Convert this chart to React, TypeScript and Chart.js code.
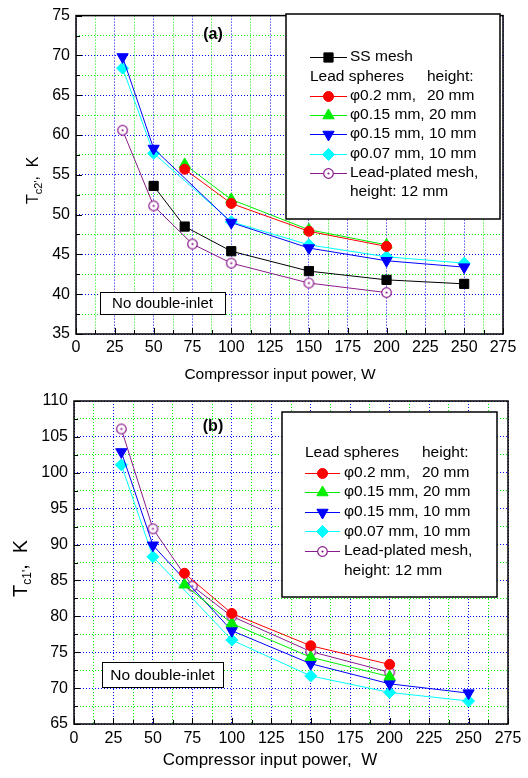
import React, { useEffect, useRef } from 'react';
import { Chart, registerables } from 'chart.js';
Chart.register(...registerables);

const FONT = "Arial, 'Liberation Sans', sans-serif";

// ---------- shared axis ----------
const X_MIN = 0;
const X_MAX = 275;
const X_STEP = 12.5;
const X_LABEL_STEP = 25;

// ---------- panel (a): T_c2 ----------
const A_Y_MIN = 35;
const A_Y_MAX = 75;
const A_Y_STEP = 2.5;
const A_Y_LABEL_STEP = 5;

const A_SS_X = [50, 70, 100, 150, 200, 250];
const A_SS_Y = [53.6, 48.5, 45.4, 42.9, 41.8, 41.3];
const A_R20_X = [70, 100, 150, 200];
const A_R20_Y = [55.7, 51.4, 47.9, 46.0];
const A_G20_X = [70, 100, 150, 200];
const A_G20_Y = [56.3, 51.9, 48.1, 46.2];
const A_B10_X = [30, 50, 100, 150, 200, 250];
const A_B10_Y = [69.8, 58.3, 49.0, 45.8, 44.2, 43.4];
const A_C10_X = [30, 50, 100, 150, 200, 250];
const A_C10_Y = [68.4, 57.7, 49.1, 46.2, 44.7, 43.9];
const A_PB_X = [30, 50, 75, 100, 150, 200];
const A_PB_Y = [60.6, 51.1, 46.3, 43.9, 41.4, 40.2];

// ---------- panel (b): T_c1 ----------
const B_Y_MIN = 65;
const B_Y_MAX = 110;
const B_Y_STEP = 2.5;
const B_Y_LABEL_STEP = 5;

const B_R20_X = [70, 100, 150, 200];
const B_R20_Y = [86.0, 80.4, 75.9, 73.3];
const B_G20_X = [70, 100, 150, 200];
const B_G20_Y = [84.4, 79.0, 74.3, 71.6];
const B_B10_X = [30, 50, 100, 150, 200, 250];
const B_B10_Y = [102.9, 89.9, 78.0, 73.4, 70.6, 69.3];
const B_C10_X = [30, 50, 100, 150, 200, 250];
const B_C10_Y = [101.1, 88.3, 76.7, 71.7, 69.4, 68.2];
const B_PB_X = [30, 50, 75, 100, 150, 200];
const B_PB_Y = [106.1, 92.2, 84.2, 80.0, 75.1, 72.2];

// ---------- labels ----------
const LBL_SS = 'SS mesh';
const LBL_R20 = 'φ0.2 mm,   20 mm';
const LBL_G20 = 'φ0.15 mm, 20 mm';
const LBL_B10 = 'φ0.15 mm, 10 mm';
const LBL_C10 = 'φ0.07 mm, 10 mm';
const LBL_PB = 'Lead-plated mesh, height: 12 mm';

type Marker = 'rect' | 'circle' | 'triangle' | 'triangleDown' | 'rectRot' | 'ring';
interface SeriesStyle { color: string; marker: Marker; radius: number; }

const ST_SS: SeriesStyle = { color: '#000000', marker: 'rect', radius: 6.5 };
const ST_R: SeriesStyle = { color: '#ff0000', marker: 'circle', radius: 5 };
const ST_G: SeriesStyle = { color: '#00ee00', marker: 'triangle', radius: 6.5 };
const ST_B: SeriesStyle = { color: '#0000ff', marker: 'triangleDown', radius: 6.5 };
const ST_C: SeriesStyle = { color: '#00ffff', marker: 'rectRot', radius: 6 };
const ST_P: SeriesStyle = { color: '#8b1a8b', marker: 'ring', radius: 5 };

function makeRing(color: string): HTMLCanvasElement {
  const c = document.createElement('canvas');
  c.width = 13;
  c.height = 13;
  const g = c.getContext('2d')!;
  g.beginPath();
  g.arc(6.5, 6.5, 4.8, 0, Math.PI * 2);
  g.fillStyle = '#ffffff';
  g.fill();
  g.lineWidth = 1.2;
  g.strokeStyle = color;
  g.stroke();
  g.beginPath();
  g.arc(6.5, 6.5, 1.1, 0, Math.PI * 2);
  g.fillStyle = color;
  g.fill();
  return c;
}

function drawMarker(ctx: CanvasRenderingContext2D, st: SeriesStyle, x: number, y: number, ring: HTMLCanvasElement) {
  const r = st.radius;
  ctx.save();
  if (st.marker === 'ring') {
    ctx.drawImage(ring, x - ring.width / 2, y - ring.height / 2);
    ctx.restore();
    return;
  }
  ctx.fillStyle = st.color;
  ctx.strokeStyle = st.color;
  ctx.lineWidth = 1;
  ctx.beginPath();
  if (st.marker === 'rect') {
    const s = r * Math.SQRT1_2;
    ctx.rect(x - s, y - s, 2 * s, 2 * s);
  } else if (st.marker === 'circle') {
    ctx.arc(x, y, r, 0, Math.PI * 2);
  } else if (st.marker === 'triangle' || st.marker === 'triangleDown') {
    let rad = st.marker === 'triangle' ? 0 : Math.PI;
    ctx.moveTo(x + Math.sin(rad) * r, y - Math.cos(rad) * r);
    rad += (2 * Math.PI) / 3;
    ctx.lineTo(x + Math.sin(rad) * r, y - Math.cos(rad) * r);
    rad += (2 * Math.PI) / 3;
    ctx.lineTo(x + Math.sin(rad) * r, y - Math.cos(rad) * r);
    ctx.closePath();
  } else if (st.marker === 'rectRot') {
    ctx.moveTo(x, y - r);
    ctx.lineTo(x + r, y);
    ctx.lineTo(x, y + r);
    ctx.lineTo(x - r, y);
    ctx.closePath();
  }
  ctx.fill();
  ctx.stroke();
  ctx.restore();
}

function makeDataset(label: string, xs: number[], ys: number[], st: SeriesStyle, ring: HTMLCanvasElement) {
  return {
    label,
    data: xs.map((x, i) => ({ x, y: ys[i] })),
    borderColor: st.color,
    backgroundColor: st.color,
    borderWidth: 1,
    pointStyle: st.marker === 'ring' ? ring : st.marker === 'triangleDown' ? 'triangle' : st.marker,
    pointRotation: st.marker === 'triangleDown' ? 180 : 0,
    pointRadius: st.radius,
    pointBorderWidth: 1,
    pointBorderColor: st.color,
    pointBackgroundColor: st.color,
    tension: 0,
    fill: false,
  };
}

interface LegendRow { series?: number; text: string; text2?: string; atLine?: boolean; }
interface OverlayCfg {
  styles: SeriesStyle[];
  panel: { text: string; x: number; y: number };
  note: { x: number; y: number; w: number; h: number; text: string; size: number };
  legend: {
    x: number; y: number; w: number; h: number; rows: LegendRow[]; rowY0: number; rowDy: number;
    lineX0: number; lineX1: number; textX: number; col2X: number; size: number;
  };
  xTitle: { text: string; x: number; y: number; size: number };
  yTitle: { main: string; sub: string; rest: string; x: number; yStart: number; size: number; subSize: number; gap: number };
}

function overlayPlugin(cfg: OverlayCfg, ring: HTMLCanvasElement) {
  return {
    id: 'overlay',
    afterDraw(chart: any) {
      const { ctx, chartArea: ca, scales } = chart;
      const xs = scales.x;
      const ys = scales.y;
      ctx.save();
      // inward ticks
      ctx.strokeStyle = '#000';
      ctx.lineWidth = 1;
      ctx.beginPath();
      xs.ticks.forEach((t: any) => {
        const px = Math.round(xs.getPixelForValue(t.value)) + 0.5;
        const len = Math.abs(t.value % X_LABEL_STEP) < 1e-6 ? 6 : 4;
        ctx.moveTo(px, ca.bottom);
        ctx.lineTo(px, ca.bottom - len);
      });
      ys.ticks.forEach((t: any) => {
        const py = Math.round(ys.getPixelForValue(t.value)) + 0.5;
        const len = Math.abs(t.value % 5) < 1e-6 ? 6 : 4;
        ctx.moveTo(ca.left, py);
        ctx.lineTo(ca.left + len, py);
      });
      ctx.stroke();
      // frame
      ctx.lineWidth = 1.5;
      ctx.strokeRect(ca.left, ca.top, ca.right - ca.left, ca.bottom - ca.top);

      // legend
      const L = cfg.legend;
      ctx.fillStyle = '#fff';
      ctx.fillRect(L.x, L.y, L.w, L.h);
      ctx.lineWidth = 1.5;
      ctx.strokeStyle = '#000';
      ctx.strokeRect(L.x, L.y, L.w, L.h);
      ctx.font = `${L.size}px ${FONT}`;
      ctx.textBaseline = 'middle';
      ctx.textAlign = 'left';
      L.rows.forEach((row, i) => {
        const y = L.rowY0 + i * L.rowDy;
        if (row.series !== undefined) {
          const st = cfg.styles[row.series];
          ctx.strokeStyle = st.color;
          ctx.lineWidth = 1;
          ctx.beginPath();
          ctx.moveTo(L.lineX0, Math.round(y) + 0.5);
          ctx.lineTo(L.lineX1, Math.round(y) + 0.5);
          ctx.stroke();
          drawMarker(ctx, st, (L.lineX0 + L.lineX1) / 2, Math.round(y) + 0.5, ring);
        }
        ctx.fillStyle = '#000';
        ctx.fillText(row.text, row.atLine ? L.lineX0 : L.textX, y);
        if (row.text2) ctx.fillText(row.text2, L.col2X, y);
      });

      // note box
      const N = cfg.note;
      ctx.fillStyle = '#fff';
      ctx.fillRect(N.x, N.y, N.w, N.h);
      ctx.strokeStyle = '#000';
      ctx.lineWidth = 1;
      ctx.strokeRect(N.x + 0.5, N.y + 0.5, N.w, N.h);
      ctx.fillStyle = '#000';
      ctx.font = `${N.size}px ${FONT}`;
      ctx.textAlign = 'center';
      ctx.fillText(N.text, N.x + N.w / 2, N.y + N.h / 2 + 1);

      // panel label
      ctx.font = `bold 16px ${FONT}`;
      ctx.fillText(cfg.panel.text, cfg.panel.x, cfg.panel.y);

      // x title
      const XT = cfg.xTitle;
      ctx.font = `${XT.size}px ${FONT}`;
      ctx.textBaseline = 'alphabetic';
      ctx.textAlign = 'center';
      ctx.fillText(XT.text, XT.x, XT.y);

      // y title (rotated, with subscript)
      const YT = cfg.yTitle;
      ctx.translate(YT.x, YT.yStart);
      ctx.rotate(-Math.PI / 2);
      ctx.textAlign = 'left';
      ctx.font = `${YT.size}px ${FONT}`;
      ctx.fillText(YT.main, 0, 0);
      let w = ctx.measureText(YT.main).width;
      ctx.font = `${YT.subSize}px ${FONT}`;
      ctx.fillText(YT.sub, w, YT.subSize * 0.35);
      w += ctx.measureText(YT.sub).width + YT.gap;
      ctx.font = `${YT.size}px ${FONT}`;
      ctx.fillText(YT.rest, w, 0);
      ctx.restore();
    },
  };
}

function makeConfig(
  datasets: any[], yMin: number, yMax: number, yStep: number, yLabelStep: number,
  pad: { top: number; right: number }, yWidth: number, xHeight: number, xPad: number,
  overlay: any,
) {
  const gridColor = (step: number) => (c: any) =>
    c.tick && Math.abs(c.tick.value % step) < 1e-6 ? '#0000ff' : '#00ee00';
  return {
    type: 'line' as const,
    data: { datasets },
    options: {
      animation: false as const,
      responsive: false,
      events: [],
      layout: { padding: { top: pad.top, right: pad.right, left: 0, bottom: 0 } },
      plugins: { legend: { display: false }, tooltip: { enabled: false } },
      scales: {
        x: {
          type: 'linear' as const,
          min: X_MIN,
          max: X_MAX,
          afterFit: (s: any) => { s.height = xHeight; },
          ticks: {
            stepSize: X_STEP,
            autoSkip: false,
            maxRotation: 0,
            minRotation: 0,
            padding: xPad,
            color: '#000',
            font: { family: FONT, size: 16 },
            callback: (v: any) => (Math.abs(v % X_LABEL_STEP) < 1e-6 ? String(v) : ''),
          },
          grid: { color: gridColor(X_LABEL_STEP), lineWidth: 1, drawTicks: false },
          border: { display: false, dash: [1, 2] },
        },
        y: {
          type: 'linear' as const,
          min: yMin,
          max: yMax,
          afterFit: (s: any) => { s.width = yWidth; },
          ticks: {
            stepSize: yStep,
            autoSkip: false,
            padding: 6,
            color: '#000',
            font: { family: FONT, size: 16 },
            callback: (v: any) => (Math.abs(v % yLabelStep) < 1e-6 ? String(v) : ''),
          },
          grid: { color: gridColor(yLabelStep), lineWidth: 1, drawTicks: false },
          border: { display: false, dash: [1, 2] },
        },
      },
    },
    plugins: [overlay],
  };
}

function PanelA() {
  const ref = useRef<HTMLCanvasElement>(null);
  useEffect(() => {
    const ring = makeRing(ST_P.color);
    const styles = [ST_SS, ST_R, ST_G, ST_B, ST_C, ST_P];
    const datasets = [
      makeDataset(LBL_SS, A_SS_X, A_SS_Y, ST_SS, ring),
      makeDataset(LBL_R20, A_R20_X, A_R20_Y, ST_R, ring),
      makeDataset(LBL_G20, A_G20_X, A_G20_Y, ST_G, ring),
      makeDataset(LBL_B10, A_B10_X, A_B10_Y, ST_B, ring),
      makeDataset(LBL_C10, A_C10_X, A_C10_Y, ST_C, ring),
      makeDataset(LBL_PB, A_PB_X, A_PB_Y, ST_P, ring),
    ];
    const overlay = overlayPlugin({
      styles,
      panel: { text: '(a)', x: 213, y: 35 },
      note: { x: 100, y: 292, w: 125, h: 22, text: 'No double-inlet', size: 15 },
      legend: {
        x: 286, y: 14, w: 214, h: 205, rowY0: 57, rowDy: 19.3, lineX0: 310, lineX1: 347, textX: 350, col2X: 427, size: 15.5,
        rows: [
          { series: 0, text: LBL_SS },
          { text: 'Lead spheres', text2: 'height:', atLine: true },
          { series: 1, text: 'φ0.2 mm,', text2: '20 mm' },
          { series: 2, text: LBL_G20 },
          { series: 3, text: LBL_B10 },
          { series: 4, text: LBL_C10 },
          { series: 5, text: 'Lead-plated mesh,' },
          { text: 'height: 12 mm' },
        ],
      },
      xTitle: { text: 'Compressor input power, W', x: 280, y: 379, size: 15.5 },
      yTitle: { main: 'T', sub: "c2'", rest: ',  K', x: 38, yStart: 204, size: 16, subSize: 11, gap: 0 },
    }, ring);
    const chart = new Chart(ref.current!, makeConfig(datasets, A_Y_MIN, A_Y_MAX, A_Y_STEP, A_Y_LABEL_STEP,
      { top: 13, right: 25 }, 76, 390 - 334, 4, overlay) as any);
    return () => chart.destroy();
  }, []);
  return <canvas ref={ref} width={528} height={390} style={{ position: 'absolute', left: 0, top: 0, width: 528, height: 390 }} />;
}

function PanelB() {
  const ref = useRef<HTMLCanvasElement>(null);
  useEffect(() => {
    const ring = makeRing(ST_P.color);
    const styles = [ST_R, ST_G, ST_B, ST_C, ST_P];
    const datasets = [
      makeDataset(LBL_R20, B_R20_X, B_R20_Y, ST_R, ring),
      makeDataset(LBL_G20, B_G20_X, B_G20_Y, ST_G, ring),
      makeDataset(LBL_B10, B_B10_X, B_B10_Y, ST_B, ring),
      makeDataset(LBL_C10, B_C10_X, B_C10_Y, ST_C, ring),
      makeDataset(LBL_PB, B_PB_X, B_PB_Y, ST_P, ring),
    ];
    const overlay = overlayPlugin({
      styles,
      panel: { text: '(b)', x: 213, y: 42 },
      note: { x: 102, y: 277, w: 121, h: 25, text: 'No double-inlet', size: 15.5 },
      legend: {
        x: 282, y: 27, w: 215, h: 185, rowY0: 68, rowDy: 19.6, lineX0: 305, lineX1: 340, textX: 344, col2X: 422, size: 15.5,
        rows: [
          { text: 'Lead spheres', text2: 'height:', atLine: true },
          { series: 0, text: 'φ0.2 mm,', text2: '20 mm' },
          { series: 1, text: LBL_G20 },
          { series: 2, text: LBL_B10 },
          { series: 3, text: LBL_C10 },
          { series: 4, text: 'Lead-plated mesh,' },
          { text: 'height: 12 mm' },
        ],
      },
      xTitle: { text: 'Compressor input power,  W', x: 270, y: 380, size: 17 },
      yTitle: { main: 'T', sub: "c1'", rest: ',  K', x: 27, yStart: 212, size: 20, subSize: 12, gap: 0 },
    }, ring);
    const chart = new Chart(ref.current!, makeConfig(datasets, B_Y_MIN, B_Y_MAX, B_Y_STEP, B_Y_LABEL_STEP,
      { top: 16, right: 20 }, 74, 393 - 339, 5, overlay) as any);
    return () => chart.destroy();
  }, []);
  return <canvas ref={ref} width={528} height={393} style={{ position: 'absolute', left: 0, top: 385, width: 528, height: 393 }} />;
}

export default function App() {
  return (
    <div style={{ position: 'absolute', left: 0, top: 0, width: 528, height: 778, background: '#fff' }}>
      <PanelA />
      <PanelB />
    </div>
  );
}
